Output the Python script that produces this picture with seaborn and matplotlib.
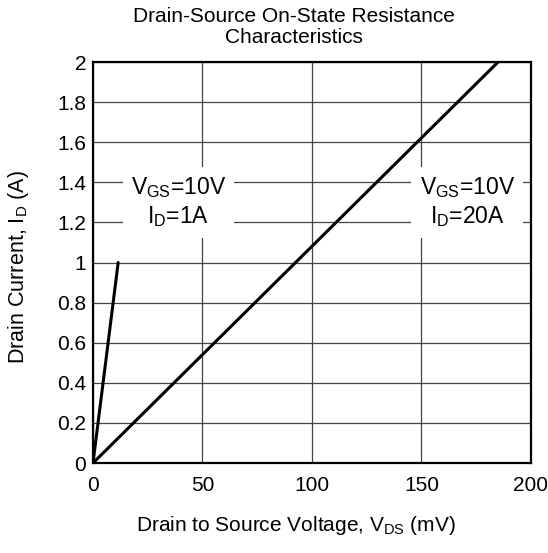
import numpy as np
import pandas as pd
import matplotlib
matplotlib.use("Agg")
import matplotlib.pyplot as plt
import seaborn as sns

# Data
vds_1a = [0, 11.5]        # mV
id_1a = [0, 1.0]          # A
vds_20a = [0, 185]        # mV
id_20a = [0, 2.0]         # A
x_ticks = [0, 50, 100, 150, 200]
y_ticks = [0, 0.2, 0.4, 0.6, 0.8, 1, 1.2, 1.4, 1.6, 1.8, 2]
y_tick_labels = ["0", "0.2", "0.4", "0.6", "0.8", "1", "1.2", "1.4", "1.6", "1.8", "2"]

sns.set_theme(style="white")
plt.rcParams['font.family'] = ['Liberation Sans', 'DejaVu Sans']
plt.rcParams['mathtext.fontset'] = 'custom'
plt.rcParams['mathtext.rm'] = 'Liberation Sans'
plt.rcParams['mathtext.it'] = 'Liberation Sans'

df = pd.concat([
    pd.DataFrame({"VDS": vds_1a, "ID": id_1a, "cond": "1A"}),
    pd.DataFrame({"VDS": vds_20a, "ID": id_20a, "cond": "20A"}),
])

fig = plt.figure(figsize=(5.48, 5.53), dpi=100)
ax = fig.add_axes([0.1697, 0.1627, 0.799, 0.725])

sns.lineplot(data=df, x="VDS", y="ID", units="cond", estimator=None,
             color="black", linewidth=2.2, ax=ax, sort=False, zorder=4)

ax.set_xlim(0, 200)
ax.set_ylim(0, 2)
ax.set_xticks(x_ticks)
ax.set_yticks(y_ticks)
ax.set_yticklabels(y_tick_labels)
ax.grid(True, color="#444444", linewidth=0.9)
ax.set_axisbelow(True)
for s in ax.spines.values():
    s.set_color("black")
    s.set_linewidth(1.6)
ax.tick_params(axis="x", labelsize=15, colors="black", length=0, pad=9)
ax.tick_params(axis="y", labelsize=15, colors="black", length=0, pad=5)
ax.set_xlabel("")
ax.set_ylabel("")

fig.text(0.536, 0.951, "Drain-Source On-State Resistance\nCharacteristics",
         ha="center", va="center", fontsize=15, color="black", linespacing=1.15)
fig.text(0.54, 0.049, r"Drain to Source Voltage, V$_{\mathrm{DS}}$ (mV)",
         ha="center", va="center", fontsize=15, color="black")
fig.text(0.033, 0.517, r"Drain Current, I$_{\mathrm{D}}$ (A)", rotation=90,
         ha="center", va="center", fontsize=15.5, color="black")

bbox = dict(facecolor="white", edgecolor="none", pad=6)
ax.text(39, 1.30, "V$_{\\mathrm{GS}}$=10V\nI$_{\\mathrm{D}}$=1A", ha="center", va="center",
        fontsize=16.5, color="black", bbox=bbox, zorder=3, linespacing=1.22)
ax.text(171, 1.30, "V$_{\\mathrm{GS}}$=10V\nI$_{\\mathrm{D}}$=20A", ha="center", va="center",
        fontsize=16.5, color="black", bbox=bbox, zorder=3, linespacing=1.22)

fig.savefig("out.png", dpi=100)
